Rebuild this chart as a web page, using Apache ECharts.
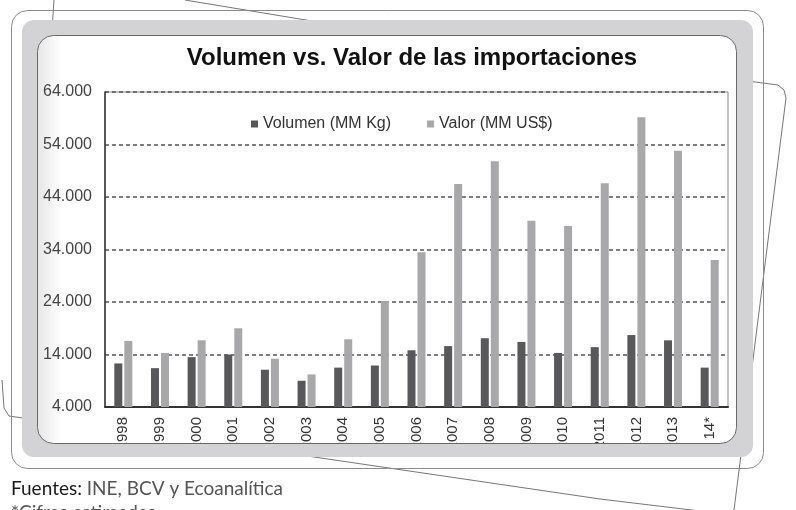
<!DOCTYPE html>
<html>
<head>
<meta charset="utf-8">
<script src="https://cdn.jsdelivr.net/npm/echarts@6/dist/echarts.min.js"></script>
<style>
  html, body { margin: 0; padding: 0; background: #fff; }
  #chart { width: 796px; height: 510px; }
</style>
</head>
<body>
<div id="chart"></div>
<script>
// datos
var years = ['1998', '1999', '2000', '2001', '2002', '2003', '2004', '2005', '2006',
  '2007', '2008', '2009', '2010', '2011', '2012', '2013', '14*'];
var volumen = [12300, 11400, 13500, 14000, 11100, 9000, 11500, 11900, 14800,
  15600, 17100, 16400, 14300, 15400, 17700, 16700, 11500];
var valor = [16600, 14300, 16700, 19000, 13200, 10200, 16900, 24200, 33500,
  46500, 50800, 39500, 38500, 46600, 59200, 52800, 32000];
var yMin = 4000;
var yMax = 64000;
var yStep = 10000;

var fontArial = 'Arial, "Liberation Sans", sans-serif';
var fontPie = 'Lato, "Open Sans", sans-serif';

var myChart = echarts.init(document.getElementById('chart'));

var options = {
  backgroundColor: '#fff',
  animation: false,
  title: {
    text: 'Volumen vs. Valor de las importaciones',
    left: 407,
    top: 41,
    textAlign: 'center',
    textStyle: { fontFamily: fontArial, fontSize: 24, fontWeight: 'bold', color: '#111' }
  },
  legend: {
    left: 246,
    top: 111,
    itemWidth: 7,
    itemHeight: 7,
    itemGap: 36,
    icon: 'rect',
    textStyle: { fontFamily: fontArial, fontSize: 16, color: '#333' },
    data: ['Volumen (MM Kg)', 'Valor (MM US$)']
  },
  grid: {
    left: 105,
    right: 68,
    top: 92,
    bottom: 103,
    show: true,
    borderColor: '#8a8a8a',
    borderWidth: 1
  },
  xAxis: {
    type: 'category',
    data: years,
    axisTick: { show: false },
    axisLine: { lineStyle: { color: '#333', width: 2 } },
    axisLabel: {
      interval: 0,
      rotate: 90,
      margin: 10,
      fontFamily: fontArial,
      fontSize: 15,
      color: '#333'
    }
  },
  yAxis: {
    type: 'value',
    min: yMin,
    max: yMax,
    interval: yStep,
    axisLine: { show: true, lineStyle: { color: '#333', width: 1.5 } },
    axisTick: { show: false },
    axisLabel: {
      margin: 13,
      fontFamily: fontArial,
      fontSize: 16,
      color: '#444',
      formatter: function (v) { return (v / 1000).toFixed(0) + '.000'; }
    },
    splitLine: { lineStyle: { color: '#555', width: 1.5, type: [4, 3] } }
  },
  series: [
    {
      name: 'Volumen (MM Kg)',
      type: 'bar',
      barWidth: 8,
      barGap: '25%',
      data: volumen,
      itemStyle: { color: '#58585a' }
    },
    {
      name: 'Valor (MM US$)',
      type: 'bar',
      barWidth: 8,
      data: valor,
      itemStyle: { color: '#a8a8aa' }
    }
  ],
  graphic: [
    // lineas de las hojas de atras
    { type: 'polyline', z: -30, shape: { points: [[54, 0], [52, 30]] }, style: { fill: null, stroke: '#777', lineWidth: 1 } },
    { type: 'polyline', z: -30, shape: { points: [[185, 0], [330, 24]] }, style: { fill: null, stroke: '#777', lineWidth: 1 } },
    { type: 'polyline', z: -30, shape: { points: [[740, 80], [778, 85], [784, 90], [786, 98], [734, 510]] }, style: { fill: null, stroke: '#777', lineWidth: 1 } },
    { type: 'polyline', z: -30, shape: { points: [[280, 452], [600, 499], [700, 511]] }, style: { fill: null, stroke: '#777', lineWidth: 1 } },
    { type: 'polyline', z: -30, shape: { points: [[2, 380], [4, 408], [9, 416], [30, 419]] }, style: { fill: null, stroke: '#777', lineWidth: 1 } },
    // marco exterior
    { type: 'rect', z: -25, shape: { x: 11.5, y: 10.5, width: 752, height: 458, r: 16 }, style: { fill: null, stroke: '#8c8c8c', lineWidth: 1 } },
    // panel gris
    { type: 'rect', z: -20, shape: { x: 22, y: 20, width: 731, height: 437, r: 12 }, style: { fill: '#d3d3d5' } },
    // panel blanco
    {
      type: 'rect', z: -15,
      shape: { x: 37.5, y: 35.5, width: 699, height: 408, r: 16 },
      style: {
        stroke: '#6a6a6a', lineWidth: 1,
        fill: new echarts.graphic.LinearGradient(0, 0, 1, 0, [
          { offset: 0, color: '#e6e6e6' },
          { offset: 0.035, color: '#ffffff' },
          { offset: 1, color: '#ffffff' }
        ])
      }
    },
    // tapa la parte cortada de las etiquetas
    { type: 'rect', z: 50, shape: { x: 44, y: 444, width: 686, height: 13 }, style: { fill: '#d3d3d5' } },
    { type: 'line', z: 50, shape: { x1: 54, y1: 443.5, x2: 720, y2: 443.5 }, style: { stroke: '#6a6a6a', lineWidth: 1 } },
    // fuentes
    {
      type: 'text', z: 50, left: 11, top: 479,
      style: {
        text: '{b|Fuentes:} INE, BCV y Ecoanalítica',
        fontFamily: fontPie,
        fontSize: 19,
        fill: '#555',
        rich: { b: { fontFamily: fontPie, fontSize: 19, fill: '#1a1a1a' } }
      }
    },
    {
      type: 'text', z: 50, left: 11, top: 503,
      style: { text: '*Cifras estimadas', fontFamily: fontPie, fontSize: 19, fill: '#555' }
    }
  ]
};

myChart.setOption(options);
window.addEventListener('resize', function () {
  myChart.resize();
});
</script>
</body>
</html>
